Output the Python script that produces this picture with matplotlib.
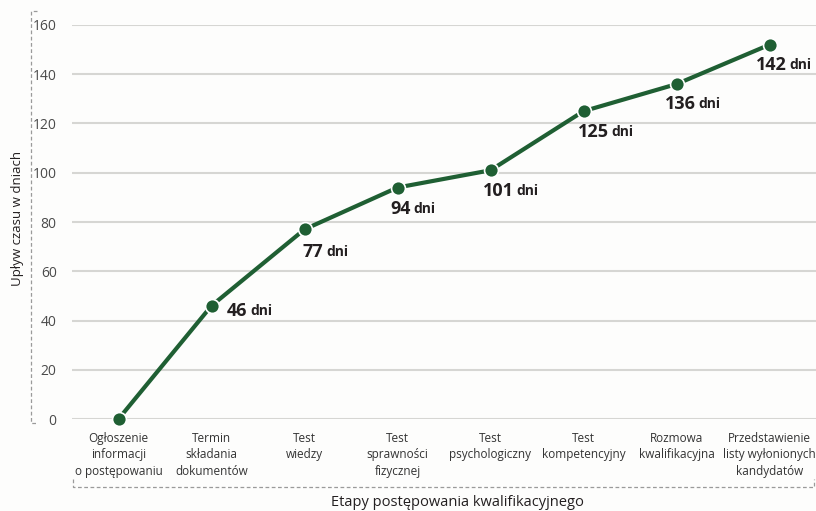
import matplotlib.pyplot as plt
from matplotlib.lines import Line2D

plt.rcParams['font.family'] = ['Open Sans', 'DejaVu Sans']

# Data
stages = ['Ogłoszenie\ninformacji\no postępowaniu', 'Termin\nskładania\ndokumentów',
          'Test\nwiedzy', 'Test\nsprawności\nfizycznej', 'Test\npsychologiczny',
          'Test\nkompetencyjny', 'Rozmowa\nkwalifikacyjna',
          'Przedstawienie\nlisty wyłonionych\nkandydatów']
days = [0, 46, 77, 94, 101, 125, 136, 152]
day_labels = ['', '46', '77', '94', '101', '125', '136', '142']
yticks = [0, 20, 40, 60, 80, 100, 120, 140, 160]

# label offsets in pixels (dx, dy)
offsets = [(0, 0), (15, -5), (-2, -23), (-7, -21), (-8, -21), (-6, -21), (-12, -20), (-14, -20)]

green = '#1f5f33'
W, H = 816, 511

fig = plt.figure(figsize=(8.16, 5.11), dpi=100, facecolor='#fdfdfc')
ax = fig.add_axes([72 / W, 1 - 419 / H, (816 - 72) / W, (419 - 25) / H])
ax.set_facecolor('#fdfdfc')

x = list(range(len(days)))
ax.plot(x, days, color=green, linewidth=3, marker='o', markersize=10,
        markerfacecolor=green, markeredgecolor='white', markeredgewidth=1.2,
        clip_on=False, zorder=3)

for i, lab in enumerate(day_labels):
    if not lab:
        continue
    t = ax.annotate(lab, (x[i], days[i]), xytext=offsets[i], textcoords='offset pixels',
                    ha='left', va='center', fontsize=13, fontweight='bold', color='#231f20')
    ax.annotate('dni', xy=(1, 0), xycoords=t, xytext=(3, 2), textcoords='offset pixels',
                ha='left', va='bottom', fontsize=10, fontweight='bold', color='#231f20')

ax.set_xlim(-0.5, 7.5)
ax.set_ylim(0, 160)
ax.set_yticks(yticks)
ax.set_xticks(x)
ax.set_xticklabels(stages, fontsize=8.5, color='#333333', linespacing=1.35)
ax.tick_params(axis='y', labelsize=10, colors='#4a4a4a', length=0, pad=11)
ax.tick_params(axis='x', length=0, pad=9)
ax.grid(axis='y', color='#d6d6d3', linewidth=1.5)
ax.set_axisbelow(True)
for s in ax.spines.values():
    s.set_visible(False)

fig.text(18 / W, 1 - 218 / H, 'Upływ czasu w dniach', rotation=90, ha='center', va='center',
         fontsize=9.5, color='#231f20')
fig.text(457 / W, 1 - 502 / H, 'Etapy postępowania kwalifikacyjnego', ha='center', va='center',
         fontsize=10.5, color='#231f20')

# dashed brackets
def px_line(xs, ys):
    fig.add_artist(Line2D([v / W for v in xs], [1 - v / H for v in ys], transform=fig.transFigure,
                          color='#9a9a9a', linewidth=0.9, linestyle=(0, (3, 2))))

px_line([37, 31, 31, 38], [11, 11, 423, 423])
px_line([73, 73, 814, 814], [479, 487, 487, 479])

fig.savefig('out.png', dpi=100, facecolor=fig.get_facecolor())
